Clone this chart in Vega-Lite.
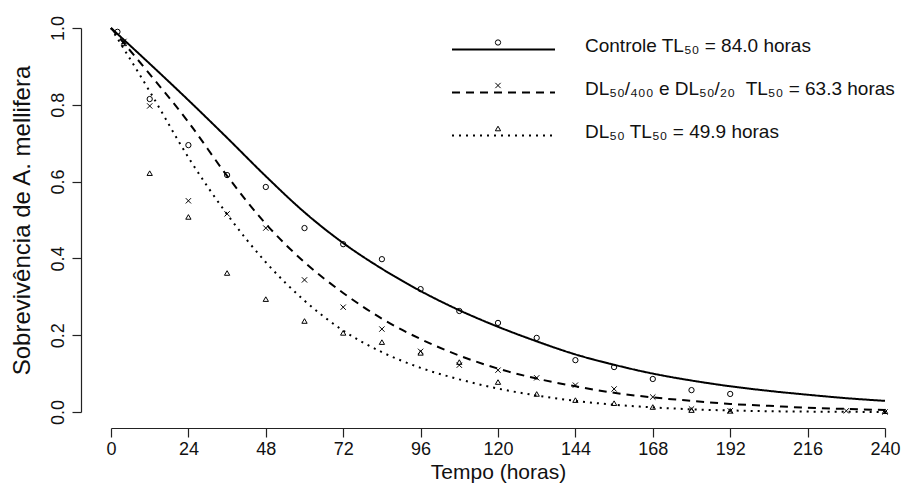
{
  "$schema": "https://vega.github.io/schema/vega-lite/v6.json",
  "width": 774,
  "height": 384,
  "autosize": {"type": "none"},
  "padding": {"left": 111, "top": 28, "right": 19, "bottom": 78},
  "background": "white",
  "config": {
    "view": {"stroke": null},
    "font": "Liberation Sans",
    "axis": {"grid": false, "domainColor": "#222222", "tickColor": "#222222", "labelColor": "#111111", "titleColor": "#111111", "labelFont": "Liberation Sans", "titleFont": "Liberation Sans", "titleFontWeight": "normal", "domainWidth": 1.2, "tickWidth": 1.2}
  },
  "layer": [
    {
      "data": {"values": [
        {"t": 0, "s": 1.0, "g": "Controle"}, {"t": 12, "s": 0.907, "g": "Controle"}, {"t": 24, "s": 0.812, "g": "Controle"}, {"t": 36, "s": 0.714, "g": "Controle"}, {"t": 48, "s": 0.614, "g": "Controle"}, {"t": 60, "s": 0.52, "g": "Controle"}, {"t": 72, "s": 0.44, "g": "Controle"}, {"t": 84, "s": 0.373, "g": "Controle"}, {"t": 96, "s": 0.315, "g": "Controle"}, {"t": 108, "s": 0.265, "g": "Controle"}, {"t": 120, "s": 0.222, "g": "Controle"}, {"t": 132, "s": 0.184, "g": "Controle"}, {"t": 144, "s": 0.15, "g": "Controle"}, {"t": 156, "s": 0.123, "g": "Controle"}, {"t": 168, "s": 0.1, "g": "Controle"}, {"t": 180, "s": 0.082, "g": "Controle"}, {"t": 192, "s": 0.067, "g": "Controle"}, {"t": 204, "s": 0.055, "g": "Controle"}, {"t": 216, "s": 0.045, "g": "Controle"}, {"t": 228, "s": 0.036, "g": "Controle"}, {"t": 240, "s": 0.029, "g": "Controle"},
        {"t": 0, "s": 1.0, "g": "DL50/400 e DL50/20"}, {"t": 12, "s": 0.88, "g": "DL50/400 e DL50/20"}, {"t": 24, "s": 0.755, "g": "DL50/400 e DL50/20"}, {"t": 36, "s": 0.615, "g": "DL50/400 e DL50/20"}, {"t": 48, "s": 0.49, "g": "DL50/400 e DL50/20"}, {"t": 60, "s": 0.39, "g": "DL50/400 e DL50/20"}, {"t": 72, "s": 0.31, "g": "DL50/400 e DL50/20"}, {"t": 84, "s": 0.243, "g": "DL50/400 e DL50/20"}, {"t": 96, "s": 0.19, "g": "DL50/400 e DL50/20"}, {"t": 108, "s": 0.147, "g": "DL50/400 e DL50/20"}, {"t": 120, "s": 0.113, "g": "DL50/400 e DL50/20"}, {"t": 132, "s": 0.087, "g": "DL50/400 e DL50/20"}, {"t": 144, "s": 0.067, "g": "DL50/400 e DL50/20"}, {"t": 156, "s": 0.05, "g": "DL50/400 e DL50/20"}, {"t": 168, "s": 0.038, "g": "DL50/400 e DL50/20"}, {"t": 180, "s": 0.029, "g": "DL50/400 e DL50/20"}, {"t": 192, "s": 0.021, "g": "DL50/400 e DL50/20"}, {"t": 204, "s": 0.016, "g": "DL50/400 e DL50/20"}, {"t": 216, "s": 0.011, "g": "DL50/400 e DL50/20"}, {"t": 228, "s": 0.008, "g": "DL50/400 e DL50/20"}, {"t": 240, "s": 0.005, "g": "DL50/400 e DL50/20"},
        {"t": 0, "s": 1.0, "g": "DL50"}, {"t": 12, "s": 0.835, "g": "DL50"}, {"t": 24, "s": 0.663, "g": "DL50"}, {"t": 36, "s": 0.515, "g": "DL50"}, {"t": 48, "s": 0.39, "g": "DL50"}, {"t": 60, "s": 0.29, "g": "DL50"}, {"t": 72, "s": 0.212, "g": "DL50"}, {"t": 84, "s": 0.156, "g": "DL50"}, {"t": 96, "s": 0.115, "g": "DL50"}, {"t": 108, "s": 0.085, "g": "DL50"}, {"t": 120, "s": 0.061, "g": "DL50"}, {"t": 132, "s": 0.043, "g": "DL50"}, {"t": 144, "s": 0.029, "g": "DL50"}, {"t": 156, "s": 0.019, "g": "DL50"}, {"t": 168, "s": 0.012, "g": "DL50"}, {"t": 180, "s": 0.007, "g": "DL50"}, {"t": 192, "s": 0.004, "g": "DL50"}, {"t": 204, "s": 0.002, "g": "DL50"}, {"t": 216, "s": 0.001, "g": "DL50"}, {"t": 228, "s": 0.0005, "g": "DL50"}, {"t": 240, "s": 0.0, "g": "DL50"}
      ]},
      "mark": {"type": "line", "interpolate": "monotone", "color": "black", "strokeWidth": 2},
      "encoding": {
        "x": {"field": "t", "type": "quantitative", "scale": {"domain": [0, 240], "nice": false, "zero": false},
          "axis": {"values": [0, 24, 48, 72, 96, 120, 144, 168, 192, 216, 240], "offset": 16, "tickSize": 9, "labelPadding": 3, "labelFontSize": 18, "labelFlush": false, "labelOverlap": false, "title": "Tempo (horas)", "titleFontSize": 21, "titlePadding": 3}},
        "y": {"field": "s", "type": "quantitative", "scale": {"domain": [0, 1], "nice": false},
          "axis": {"values": [0, 0.2, 0.4, 0.6, 0.8, 1.0], "format": ".1f", "offset": 30, "tickSize": 9, "labelAngle": -90, "labelAlign": "center", "labelBaseline": "alphabetic", "labelPadding": 9, "labelFontSize": 18, "title": "Sobrevivência de A. mellifera", "titleFontSize": 24, "titlePadding": 15}},
        "strokeDash": {"field": "g", "type": "nominal",
          "scale": {"domain": ["Controle", "DL50/400 e DL50/20", "DL50"], "range": [[1, 0], [8, 6], [2, 5]]},
          "legend": {"orient": "none", "legendX": 340, "legendY": 0, "title": null, "padding": 0, "symbolType": "stroke", "symbolSize": 10609, "symbolStrokeWidth": 2, "symbolStrokeColor": "black", "clipHeight": 43, "rowPadding": 0, "labelFontSize": 19, "labelFont": "Liberation Sans", "labelColor": "#111111", "labelOffset": 29, "labelLimit": 600,
            "labelExpr": "datum.value == 'Controle' ? 'Controle TL₅₀ = 84.0 horas' : (datum.value == 'DL50' ? '\u00a0DL₅₀ TL₅₀ = 49.9 horas' : 'DL₅₀/₄₀₀ e DL₅₀/₂₀\u00a0\u00a0TL₅₀ = 63.3 horas')",
            "encode": {"labels": {"update": {"dy": {"value": -4}}}}}
        }
      }
    },
    {
      "data": {"values": [
        {"t": 2, "s": 0.99, "grupo": "controle"}, {"t": 12, "s": 0.815, "grupo": "controle"}, {"t": 24, "s": 0.695, "grupo": "controle"}, {"t": 36, "s": 0.617, "grupo": "controle"}, {"t": 48, "s": 0.586, "grupo": "controle"}, {"t": 60, "s": 0.479, "grupo": "controle"}, {"t": 72, "s": 0.437, "grupo": "controle"}, {"t": 84, "s": 0.398, "grupo": "controle"}, {"t": 96, "s": 0.32, "grupo": "controle"}, {"t": 108, "s": 0.263, "grupo": "controle"}, {"t": 120, "s": 0.232, "grupo": "controle"}, {"t": 132, "s": 0.193, "grupo": "controle"}, {"t": 144, "s": 0.135, "grupo": "controle"}, {"t": 156, "s": 0.117, "grupo": "controle"}, {"t": 168, "s": 0.086, "grupo": "controle"}, {"t": 180, "s": 0.057, "grupo": "controle"}, {"t": 192, "s": 0.047, "grupo": "controle"},
        {"t": 4, "s": 0.965, "grupo": "dl400"}, {"t": 12, "s": 0.797, "grupo": "dl400"}, {"t": 24, "s": 0.55, "grupo": "dl400"}, {"t": 36, "s": 0.516, "grupo": "dl400"}, {"t": 48, "s": 0.479, "grupo": "dl400"}, {"t": 60, "s": 0.344, "grupo": "dl400"}, {"t": 72, "s": 0.273, "grupo": "dl400"}, {"t": 84, "s": 0.216, "grupo": "dl400"}, {"t": 96, "s": 0.158, "grupo": "dl400"}, {"t": 108, "s": 0.122, "grupo": "dl400"}, {"t": 120, "s": 0.109, "grupo": "dl400"}, {"t": 132, "s": 0.089, "grupo": "dl400"}, {"t": 144, "s": 0.07, "grupo": "dl400"}, {"t": 156, "s": 0.06, "grupo": "dl400"}, {"t": 168, "s": 0.039, "grupo": "dl400"}, {"t": 180, "s": 0.008, "grupo": "dl400"}, {"t": 192, "s": 0.003, "grupo": "dl400"}, {"t": 228, "s": 0.003, "grupo": "dl400"}, {"t": 240, "s": 0.0, "grupo": "dl400"},
        {"t": 4, "s": 0.96, "grupo": "dl50"}, {"t": 12, "s": 0.622, "grupo": "dl50"}, {"t": 24, "s": 0.508, "grupo": "dl50"}, {"t": 36, "s": 0.362, "grupo": "dl50"}, {"t": 48, "s": 0.294, "grupo": "dl50"}, {"t": 60, "s": 0.237, "grupo": "dl50"}, {"t": 72, "s": 0.206, "grupo": "dl50"}, {"t": 84, "s": 0.182, "grupo": "dl50"}, {"t": 96, "s": 0.154, "grupo": "dl50"}, {"t": 108, "s": 0.13, "grupo": "dl50"}, {"t": 120, "s": 0.078, "grupo": "dl50"}, {"t": 132, "s": 0.047, "grupo": "dl50"}, {"t": 144, "s": 0.031, "grupo": "dl50"}, {"t": 156, "s": 0.023, "grupo": "dl50"}, {"t": 168, "s": 0.013, "grupo": "dl50"}, {"t": 180, "s": 0.005, "grupo": "dl50"}, {"t": 192, "s": 0.003, "grupo": "dl50"}, {"t": 240, "s": 0.002, "grupo": "dl50"}
      ]},
      "mark": {"type": "point", "filled": false, "color": "black", "strokeWidth": 1, "size": 28, "opacity": 1},
      "encoding": {
        "x": {"field": "t", "type": "quantitative"},
        "y": {"field": "s", "type": "quantitative"},
        "shape": {"field": "grupo", "type": "nominal",
          "scale": {"domain": ["controle", "dl400", "dl50"], "range": ["circle", "M-1,-1L1,1M-1,1L1,-1", "triangle-up"]},
          "legend": {"orient": "none", "legendX": 382, "legendY": -7, "title": null, "padding": 0, "labelExpr": "''", "clipHeight": 43, "rowPadding": 0, "symbolSize": 28, "symbolStrokeColor": "black", "symbolStrokeWidth": 1, "symbolFillColor": "transparent", "labelFontSize": 10}
        }
      }
    }
  ]
}
